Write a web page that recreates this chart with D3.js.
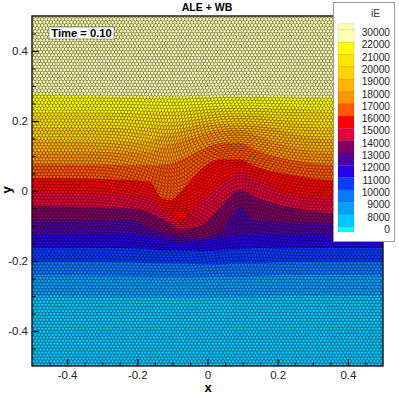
<!DOCTYPE html>
<html><head><meta charset="utf-8">
<script src="https://cdn.jsdelivr.net/npm/d3@7"></script>
<style>html,body{margin:0;padding:0;background:#fff}svg{display:block}text{font-family:"Liberation Sans",Arial,sans-serif}</style>
</head><body><div id="c"></div>
<script>
const title = "ALE + WB", timeLabel = "Time = 0.10", legendTitle = "iE", xName = "x", yName = "y";
const levels = [30000,22000,21000,20000,19000,18000,17000,16000,15000,14000,13000,12000,11000,10000,9000,8000,0];
const legendColors = ["#ffffb4","#ffffb4","#ffff00","#ffe600","#ffd200","#ffb400","#ff9600","#ff5a00","#ff0000","#e6003c","#820064","#5000a0","#2800e6","#0a3cff","#0a78ff","#00a0ff","#00c8ff","#00ffff"];
const xTicks = [-0.4,-0.2,0,0.2,0.4], yTicks = [-0.4,-0.2,0,0.2,0.4];
const sampleX = [-0.5,-0.22,-0.164,-0.134,-0.105,-0.077,-0.02,0.037,0.094,0.137,0.236,0.356,0.5];
const edge1  = [.277,.269,.269,.269,.269,.269,.269,.269,.269,.269,.269,.266,.266];
const edge2  = [.226,.223,.226,.226,.227,.229,.234,.237,.237,.237,.237,.226,.223];
const edge3  = [.183,.18,.184,.186,.19,.194,.211,.217,.217,.217,.197,.18,.177];
const edge4  = [.146,.14,.143,.157,.164,.171,.189,.191,.189,.189,.166,.146,.143];
const edge5  = [.111,.111,.111,.123,.133,.143,.16,.174,.174,.16,.126,.109,.106];
const edge6  = [.077,.074,.074,.074,.08,.089,.117,.137,.137,.117,.089,.074,.071];
const edge7  = [.037,.031,.026,-.017,-.026,-.003,.06,.091,.089,.069,.046,.031,.029];
const edge8  = [-.003,-.011,-.017,-.049,-.066,-.089,-.026,.017,.054,.037,-.009,-.02,-.023];
const edge9  = [-.043,-.049,-.063,-.077,-.094,-.109,-.1,-.046,.003,-.017,-.046,-.063,-.066];
const edge10 = [-.086,-.083,-.106,-.12,-.126,-.131,-.134,-.117,-.046,-.083,-.089,-.091,-.094];
const edge11 = [-.126,-.12,-.129,-.134,-.14,-.146,-.143,-.134,-.126,-.123,-.126,-.126,-.126];
const edge12 = [-.163,-.163,-.166,-.169,-.169,-.169,-.171,-.169,-.166,-.163,-.163,-.163,-.163];
const edge13 = [-.203,-.203,-.206,-.206,-.206,-.206,-.209,-.209,-.206,-.206,-.203,-.203,-.203];
const edge14 = [-.24,-.243,-.246,-.246,-.246,-.246,-.246,-.246,-.246,-.243,-.24,-.24,-.24];
const edge15 = [-.3,-.303,-.303,-.303,-.303,-.303,-.303,-.303,-.303,-.303,-.3,-.3,-.3];
const edges = [edge1,edge2,edge3,edge4,edge5,edge6,edge7,edge8,edge9,edge10,edge11,edge12,edge13,edge14,edge15];
const bandColors = legendColors.slice(1,17);

const W=399,H=399, L=32,R=383,T=16,B=366;
const x=d3.scaleLinear().domain([-0.5,0.5]).range([L,R]);
const y=d3.scaleLinear().domain([-0.5,0.5]).range([B,T]);
const svg=d3.select("#c").append("svg").attr("width",W).attr("height",H);
svg.append("defs").append("clipPath").attr("id","plot").append("rect").attr("x",L).attr("y",T).attr("width",R-L).attr("height",B-T);
const plot=svg.append("g").attr("clip-path","url(#plot)");
plot.append("rect").attr("x",L).attr("y",T).attr("width",R-L).attr("height",B-T).attr("fill",bandColors[0]);
const area=d3.area().x(d=>x(d[0])).y0(B).y1(d=>y(d[1])).curve(d3.curveMonotoneX);
edges.forEach((e,i)=>plot.append("path").attr("d",area(sampleX.map((v,k)=>[v,e[k]]))).attr("fill",bandColors[i+1]));

// mesh: hexagonal cells, swirled around the centre of the bump
const cellW=0.0098,rowH=0.0085,amp=rowH/4;
function warp(px,py){
  const dx=px-0.0,dy=py-0.02,r2=(dx*dx+dy*dy)/(0.14*0.14);
  const a=0.85*Math.exp(-r2),c=Math.cos(a),s=Math.sin(a);
  return [x(dx*c-dy*s),y(dx*s+dy*c+0.02)];
}
let mesh=d3.path();
const nRows=Math.ceil(1.04/rowH),nCols=Math.ceil(1.04/cellW)+1;
for(let j=0;j<=nRows;j++){
  const oy=-0.52+j*rowH;
  const off=(j%2)*cellW/2;
  for(let i=-1;i<=nCols;i++){
    const ox=-0.52+i*cellW+off;
    const a=warp(ox,oy+amp),b=warp(ox+cellW/2,oy+amp*2),c=warp(ox+cellW,oy+amp);
    mesh.moveTo(a[0],a[1]);mesh.lineTo(b[0],b[1]);mesh.lineTo(c[0],c[1]);
    const d=warp(ox,oy-amp*2);
    mesh.moveTo(a[0],a[1]);mesh.lineTo(d[0],d[1]);
  }
}
plot.append("path").attr("d",mesh.toString()).attr("fill","none").attr("stroke","#000").attr("stroke-width",0.55).attr("stroke-opacity",0.8);

// axes
function minor(a){return d3.range(-10,11).map(i=>i*0.05).filter(v=>!a.some(t=>Math.abs(t-v)<1e-6)&&Math.abs(v)<0.5-1e-6)}
const styleAxis=g=>{g.select(".domain").remove();g.selectAll("line").attr("stroke","#000");g.selectAll("text").attr("font-size",11.5).attr("fill","#222").attr("font-family",'"Liberation Sans",Arial,sans-serif')};
const fmt=d=>d===0?"0":String(d);
const xa=svg.append("g").attr("transform",`translate(0,${B})`).call(d3.axisBottom(x).tickValues(xTicks).tickFormat(fmt).tickSize(-7).tickPadding(5)).call(styleAxis);
xa.selectAll("line").attr("stroke-width",1.2);
const ya=svg.append("g").attr("transform",`translate(${L},0)`).call(d3.axisLeft(y).tickValues(yTicks).tickFormat(fmt).tickSize(-7).tickPadding(4)).call(styleAxis);
ya.selectAll("line").attr("stroke-width",1.2);
svg.append("g").attr("transform",`translate(0,${B})`).call(d3.axisBottom(x).tickValues(minor(xTicks)).tickFormat("").tickSize(-3.5)).call(styleAxis);
svg.append("g").attr("transform",`translate(${L},0)`).call(d3.axisLeft(y).tickValues(minor(yTicks)).tickFormat("").tickSize(-3.5)).call(styleAxis);
svg.append("rect").attr("x",L).attr("y",T).attr("width",R-L).attr("height",B-T).attr("fill","none").attr("stroke","#111").attr("stroke-width",1.4);

svg.append("text").attr("x",207).attr("y",11).attr("text-anchor","middle").attr("font-size",10.5).attr("font-weight","bold").text(title);
svg.append("text").attr("x",208).attr("y",392).attr("text-anchor","middle").attr("font-size",13).attr("font-weight","bold").text(xName);
svg.append("text").attr("transform","translate(11,190) rotate(-90)").attr("text-anchor","middle").attr("font-size",13).attr("font-weight","bold").text(yName);

// time box
svg.append("rect").attr("x",49).attr("y",27).attr("width",65).attr("height",12).attr("fill","#fff").attr("stroke","#222").attr("stroke-width",0.4);
svg.append("text").attr("x",81.5).attr("y",37).attr("text-anchor","middle").attr("font-size",11.2).attr("font-weight","bold").text(timeLabel);

// legend
svg.append("rect").attr("x",333.5).attr("y",2.5).attr("width",61).attr("height",239).attr("fill","#fff").attr("stroke","#999").attr("stroke-width",1);
svg.append("text").attr("x",375.5).attr("y",17).attr("text-anchor","middle").attr("font-size",10.2).attr("fill","#333").text(legendTitle);
const ly=d3.scaleLinear().domain([0,levels.length-1]).range([30,226.8]);
const step=ly(1)-ly(0);
legendColors.forEach((col,i)=>{
  const top=i===0?ly(0)-step/2:ly(i-1), bot=i===legendColors.length-1?ly(levels.length-1)+step/2-1:ly(i);
  svg.append("rect").attr("x",338).attr("y",top).attr("width",16).attr("height",bot-top).attr("fill",col).attr("stroke","#000").attr("stroke-opacity",0.2).attr("stroke-width",0.5);
});
levels.forEach((v,i)=>svg.append("text").attr("x",390).attr("y",ly(i)+6).attr("text-anchor","end").attr("font-size",10.2).attr("fill","#222").text(v));
</script></body></html>
